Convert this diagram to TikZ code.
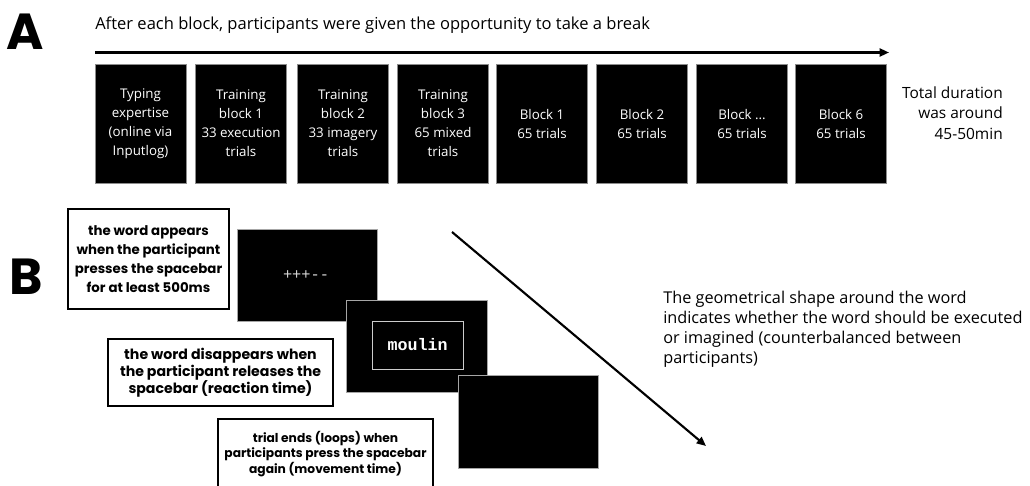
\documentclass[tikz,border=0pt]{standalone}
\usepackage{fontspec}
\setmainfont{Open Sans}
\newfontfamily\boxfont{Poppins}
\newfontfamily\monofont{Liberation Mono}
\usetikzlibrary{arrows.meta}
\begin{document}
\begin{tikzpicture}[x=0.75pt,y=-0.75pt,
  blockbox/.style={fill=black,draw=black!45,line width=0.6pt,minimum width=68.25pt,minimum height=89.25pt,inner sep=0pt,text=white,align=center,font=\fontsize{10}{14.25}\selectfont},
  notebox/.style={fill=white,draw=black,line width=2pt,inner sep=0pt,align=center},
  screen/.style={fill=black,draw=black!35,line width=0.6pt,inner sep=0pt},
  bigletter/.style={font=\boxfont\bfseries\fontsize{38}{40}\selectfont,inner sep=0pt},
  plaintext/.style={inner sep=0pt,font=\fontsize{12.4}{15}\selectfont},
  arrowline/.style={line width=1.6pt,-{Triangle[length=7pt,width=6pt]}}
]
\clip (0,0) rectangle (1030,485);
% Panel A
\node[bigletter] (A) at (25.5,31.5) {A};
\node[plaintext,anchor=west] (title) at (95,25) {After each block, participants were given the opportunity to take a break};
\coordinate (tlstart) at (95,52.5);
\coordinate (tlend) at (889,52.5);
\draw[arrowline] (tlstart) -- (tlend);
\node[blockbox] (b1) at (140.5,123.5) {Typing\\expertise\\(online via\\Inputlog)};
\node[blockbox] (b2) at (241,123.5) {Training\\block 1\\33 execution\\trials};
\node[blockbox] (b3) at (343,123.5) {Training\\block 2\\33 imagery\\trials};
\node[blockbox] (b4) at (443,123.5) {Training\\block 3\\65 mixed\\trials};
\node[blockbox] (b5) at (542,123.5) {Block 1\\65 trials};
\node[blockbox] (b6) at (642,123.5) {Block 2\\65 trials};
\node[blockbox] (b7) at (742,123.5) {Block ...\\65 trials};
\node[blockbox] (b8) at (841,123.5) {Block 6\\65 trials};
\node[plaintext,align=right,anchor=east,font=\fontsize{11.6}{15.2}\selectfont] (total) at (1003,113) {Total duration\\was around\\45-50min};
% Panel B
\node[bigletter] (B) at (26.5,276.5) {B};
\node[screen,minimum width=105pt,minimum height=69pt] (s1) at (307,275) {};
\node[text=black!15,font=\monofont\fontsize{11.5}{12}\selectfont,inner sep=0pt] (plus) at (306,275) {+++--};
\node[screen,minimum width=105.75pt,minimum height=69pt] (s2) at (416.5,346) {};
\node[draw=black!20,line width=0.6pt,minimum width=68.25pt,minimum height=36pt,inner sep=0pt,text=white,font=\monofont\bfseries\fontsize{12.5}{13}\selectfont] (word) at (417.5,345) {moulin};
\node[screen,minimum width=105pt,minimum height=69.75pt] (s3) at (528,421.5) {};
\node[notebox,minimum width=120.75pt,minimum height=75pt,font=\boxfont\bfseries\fontsize{10}{14.2}\selectfont] (n1) at (148.5,259) {the word appears\\when the participant\\presses the spacebar\\for at least 500ms};
\node[notebox,minimum width=168.75pt,minimum height=50.25pt,font=\boxfont\bfseries\fontsize{10.6}{12.6}\selectfont] (n2) at (220.5,372.5) {the word disappears when\\the participant releases the\\spacebar (reaction time)};
\node[notebox,minimum width=161.25pt,minimum height=60pt,anchor=north] (n3) at (325.5,417.5) {};
\node[inner sep=0pt,align=center,font=\boxfont\bfseries\fontsize{9.2}{11.6}\selectfont] (n3t) at (325.5,454) {trial ends (loops) when\\participants press the spacebar\\again (movement time)};
\coordinate (dstart) at (452,232);
\coordinate (dend) at (706,446);
\draw[arrowline] (dstart) -- (dend);
\node[plaintext,anchor=north west,align=left,font=\fontsize{12.2}{15}\selectfont] (para) at (663,291) {The geometrical shape around the word\\indicates whether the word should be executed\\or imagined (counterbalanced between\\participants)};
\end{tikzpicture}
\end{document}
